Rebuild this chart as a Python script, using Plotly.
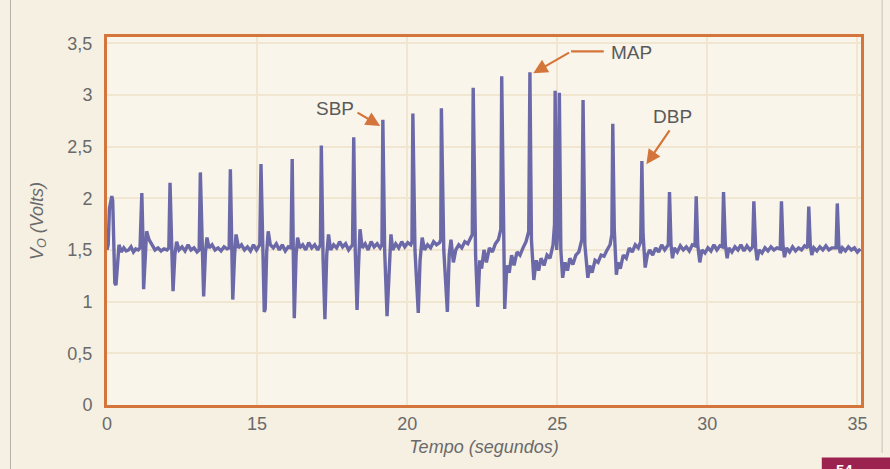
import plotly.graph_objects as go

# ---- data (time in s, output voltage in V) ----
t_seg1 = [10.00, 10.04, 10.08, 10.12, 10.16, 10.19, 10.22, 10.26, 10.30, 10.34, 10.40, 10.48, 10.56, 10.64, 10.72, 10.80, 10.88, 10.96, 11.04, 11.10,
          11.13, 11.16, 11.19, 11.22, 11.27, 11.32, 11.40, 11.50, 11.60, 11.70, 11.80, 11.90, 12.00, 12.06,
          12.10, 12.15, 12.20, 12.26, 12.32, 12.40, 12.50, 12.60, 12.70, 12.80, 12.90, 13.00, 13.07,
          13.11, 13.16, 13.22, 13.28, 13.33, 13.40, 13.50, 13.60, 13.70, 13.80, 13.90, 14.00, 14.07,
          14.11, 14.15, 14.19, 14.25, 14.30, 14.38, 14.48, 14.58, 14.68, 14.78, 14.88, 14.98, 15.09,
          15.13, 15.18, 15.24, 15.27, 15.32, 15.37, 15.44, 15.54, 15.64, 15.74, 15.84, 15.94, 16.04, 16.13]
v_seg1 = [1.50, 1.55, 1.90, 1.99, 2.02, 1.98, 1.50, 1.18, 1.16, 1.30, 1.55, 1.48, 1.52, 1.49, 1.50, 1.53, 1.48, 1.51, 1.50, 1.52,
          1.80, 2.05, 1.70, 1.12, 1.40, 1.68, 1.60, 1.55, 1.50, 1.52, 1.49, 1.51, 1.50, 1.52,
          2.15, 1.60, 1.10, 1.45, 1.58, 1.50, 1.53, 1.49, 1.55, 1.50, 1.52, 1.48, 1.50,
          2.25, 1.60, 1.05, 1.48, 1.62, 1.52, 1.55, 1.50, 1.52, 1.49, 1.53, 1.51, 1.52,
          2.28, 1.55, 1.02, 1.45, 1.65, 1.52, 1.55, 1.50, 1.53, 1.49, 1.55, 1.50, 1.55,
          2.33, 1.50, 0.90, 0.93, 1.48, 1.68, 1.55, 1.52, 1.56, 1.50, 1.55, 1.49, 1.53, 1.52]

t_seg2 = [16.17, 16.21, 16.24, 16.30, 16.35, 16.42, 16.52, 16.62, 16.72, 16.82, 16.92, 17.02, 17.11,
          17.14, 17.20, 17.26, 17.32, 17.38, 17.45, 17.55, 17.65, 17.75, 17.85, 17.95, 18.05, 18.18,
          18.22, 18.27, 18.33, 18.38, 18.43, 18.50, 18.60, 18.70, 18.80, 18.90, 19.00, 19.10, 19.16,
          19.19, 19.25, 19.33, 19.40, 19.46, 19.52, 19.62, 19.72, 19.82, 19.92, 20.02, 20.12, 20.16,
          20.19, 20.26, 20.37, 20.43, 20.50, 20.58, 20.68, 20.78, 20.88, 20.98, 21.08, 21.12,
          21.14, 21.22, 21.34, 21.40, 21.46, 21.54, 21.62, 21.72, 21.82, 21.92, 22.02, 22.12, 22.17]
v_seg2 = [2.38, 1.40, 0.84, 1.45, 1.62, 1.52, 1.55, 1.50, 1.57, 1.52, 1.55, 1.50, 1.55,
          2.51, 1.40, 0.83, 1.45, 1.65, 1.50, 1.55, 1.52, 1.58, 1.53, 1.56, 1.50, 1.55,
          2.59, 1.50, 0.92, 1.35, 1.70, 1.52, 1.56, 1.50, 1.58, 1.53, 1.56, 1.52, 1.55,
          2.76, 1.50, 0.86, 1.40, 1.65, 1.50, 1.56, 1.52, 1.58, 1.53, 1.57, 1.55, 1.58,
          2.82, 1.50, 0.89, 1.40, 1.62, 1.50, 1.55, 1.52, 1.58, 1.55, 1.57, 1.60,
          2.87, 1.50, 0.90, 1.45, 1.60, 1.38, 1.50, 1.55, 1.52, 1.58, 1.56, 1.62, 1.65]

t_seg3 = [22.20, 22.28, 22.35, 22.42, 22.48, 22.56, 22.64, 22.74, 22.84, 22.94, 23.04, 23.12,
          23.15, 23.21, 23.25, 23.32, 23.40, 23.48, 23.56, 23.66, 23.76, 23.86, 23.96, 24.05,
          24.09, 24.14, 24.22, 24.30, 24.38, 24.46, 24.56, 24.66, 24.76, 24.86, 24.91,
          24.93, 24.98, 25.02, 25.07, 25.12, 25.18, 25.26, 25.34, 25.42, 25.52, 25.62, 25.72, 25.82,
          25.86, 25.92, 26.02, 26.08, 26.16, 26.26, 26.36, 26.46, 26.56, 26.66, 26.76, 26.82,
          26.85, 26.90, 26.97, 27.02, 27.10, 27.20, 27.30, 27.40, 27.50, 27.60, 27.70, 27.78,
          27.82, 27.86, 27.93, 28.00, 28.08, 28.18, 28.28, 28.38, 28.48, 28.58, 28.70]
v_seg3 = [3.07, 1.45, 0.95, 1.40, 1.32, 1.50, 1.38, 1.52, 1.48, 1.56, 1.60, 1.70,
          3.18, 1.40, 0.93, 1.35, 1.28, 1.45, 1.35, 1.48, 1.45, 1.52, 1.58, 1.68,
          3.22, 1.60, 1.21, 1.40, 1.30, 1.42, 1.35, 1.45, 1.42, 1.55, 1.75,
          3.04, 1.50, 1.70, 3.02, 1.50, 1.23, 1.38, 1.30, 1.42, 1.36, 1.45, 1.48, 1.60,
          2.95, 1.55, 1.23, 1.35, 1.28, 1.40, 1.38, 1.45, 1.44, 1.50, 1.55, 1.65,
          2.72, 1.70, 1.26, 1.38, 1.32, 1.45, 1.42, 1.52, 1.48, 1.55, 1.52, 1.58,
          2.36, 1.65, 1.33, 1.45, 1.50, 1.45, 1.52, 1.48, 1.55, 1.50, 1.55]

t_seg4 = [28.74, 28.79, 28.84, 28.90, 29.00, 29.10, 29.20, 29.30, 29.40, 29.50, 29.59,
          29.63, 29.68, 29.75, 29.82, 29.92, 30.02, 30.12, 30.22, 30.32, 30.42, 30.50,
          30.54, 30.60, 30.66, 30.72, 30.82, 30.92, 31.02, 31.12, 31.22, 31.32, 31.42, 31.51,
          31.55, 31.61, 31.66, 31.72, 31.82, 31.92, 32.02, 32.12, 32.22, 32.32, 32.43,
          32.47, 32.52, 32.57, 32.64, 32.74, 32.84, 32.94, 33.04, 33.14, 33.24, 33.34,
          33.38, 33.43, 33.48, 33.55, 33.65, 33.75, 33.85, 33.95, 34.05, 34.15, 34.29,
          34.33, 34.38, 34.43, 34.50, 34.60, 34.70, 34.80, 34.90, 35.00, 35.10]
v_seg4 = [2.06, 1.55, 1.42, 1.52, 1.48, 1.54, 1.50, 1.53, 1.49, 1.55, 1.54,
          2.02, 1.55, 1.38, 1.50, 1.47, 1.52, 1.49, 1.55, 1.50, 1.54, 1.53,
          2.06, 1.55, 1.42, 1.52, 1.48, 1.53, 1.50, 1.55, 1.49, 1.54, 1.50, 1.53,
          1.97, 1.52, 1.40, 1.50, 1.47, 1.52, 1.49, 1.53, 1.50, 1.52, 1.51,
          1.97, 1.55, 1.43, 1.52, 1.48, 1.53, 1.49, 1.52, 1.50, 1.54, 1.52,
          1.92, 1.55, 1.45, 1.52, 1.49, 1.53, 1.50, 1.54, 1.50, 1.52, 1.52,
          1.95, 1.55, 1.47, 1.52, 1.49, 1.53, 1.50, 1.52, 1.48, 1.51]

x_tick_vals = [10, 15, 20, 25, 30, 35]
x_tick_text = ["0", "15", "20", "25", "30", "35"]
y_tick_vals = [0, 0.5, 1, 1.5, 2, 2.5, 3, 3.5]
y_tick_text = ["0", "0,5", "1", "1,5", "2", "2,5", "3", "3,5"]

# annotation anchors (data coords): label, text pos, arrow head, arrow tail
labels = ["SBP", "MAP", "DBP"]
label_t = [17.61, 27.46, 28.83]
label_v = [2.87, 3.41, 2.79]
head_t = [19.10, 24.20, 27.97]
head_v = [2.70, 3.21, 2.33]
tail_t = [18.28, 25.46, 28.80]
tail_v = [2.84, 3.42, 2.68]

time_s = t_seg1 + t_seg2 + t_seg3 + t_seg4
volts = v_seg1 + v_seg2 + v_seg3 + v_seg4

ORANGE = "#d4753b"
TEXT = "#6a6a6a"
LINE = "#6c69a8"
FONT = "Liberation Sans, Arial"

fig = go.Figure()
fig.add_trace(go.Scatter(x=time_s, y=volts, mode="lines",
                         line=dict(color=LINE, width=3.4), hoverinfo="skip"))

for i, lab in enumerate(labels):
    fig.add_annotation(x=label_t[i], y=label_v[i], text=lab, showarrow=False,
                       font=dict(family=FONT, size=19, color="#5a5a5a"))
    fig.add_annotation(x=head_t[i], y=head_v[i], ax=tail_t[i], ay=tail_v[i],
                       axref="x", ayref="y", text=" ", showarrow=True,
                       font=dict(size=2),
                       arrowhead=2, arrowsize=1.3, arrowwidth=2.2, arrowcolor=ORANGE)

# MAP leader horizontal segment
fig.add_shape(type="line", x0=tail_t[1], y0=tail_v[1], x1=26.55, y1=tail_v[1],
              line=dict(color=ORANGE, width=2.2))

# page frame lines and page number tab
fig.add_shape(type="line", xref="paper", yref="paper", x0=-0.128, x1=-0.128, y0=-0.2, y1=1.11,
              line=dict(color="#b8b0a8", width=1))
fig.add_shape(type="line", xref="paper", yref="paper", x0=1.028, x1=1.028, y0=-0.13, y1=1.11,
              line=dict(color="#c8c0b8", width=1))
fig.add_shape(type="rect", xref="paper", yref="paper", x0=0.948, x1=1.045, y0=-0.2, y1=-0.143,
              line=dict(width=0), fillcolor="#9c2350")
fig.add_annotation(xref="paper", yref="paper", x=0.992, y=-0.146, yanchor="top",
                   text="<b>54</b>", showarrow=False,
                   font=dict(family=FONT, size=15, color="white"))

fig.update_layout(
    width=890, height=469,
    margin=dict(l=107, r=29, t=37, b=64),
    paper_bgcolor="#f6f0e2",
    plot_bgcolor="#f9f5eb",
    showlegend=False,
    font=dict(family=FONT, size=18, color=TEXT),
)
fig.update_xaxes(range=[10, 35.12], tickvals=x_tick_vals, ticktext=x_tick_text,
                 showgrid=True, gridcolor="#f1e6cf", gridwidth=1.5,
                 showline=True, linecolor=ORANGE, linewidth=3, mirror=True,
                 ticks="", zeroline=False, tickfont=dict(size=18, color=TEXT),
                 title=dict(text="<i>Tempo (segundos)</i>", standoff=8,
                            font=dict(size=18, color=TEXT)))
fig.update_yaxes(range=[0, 3.56], tickvals=y_tick_vals, ticktext=y_tick_text,
                 showgrid=True, gridcolor="#f1e6cf", gridwidth=1.5,
                 showline=True, linecolor=ORANGE, linewidth=3, mirror=True,
                 ticks="", zeroline=False, ticklabelstandoff=8, tickfont=dict(size=18, color=TEXT),
                 title=dict(text="<i>V<sub>O</sub> (Volts)</i>", standoff=20,
                            font=dict(size=18, color=TEXT)))

fig.write_html("out.html", config={"displayModeBar": False},
               post_script="document.body.style.margin='0';document.body.style.overflow='hidden';")
